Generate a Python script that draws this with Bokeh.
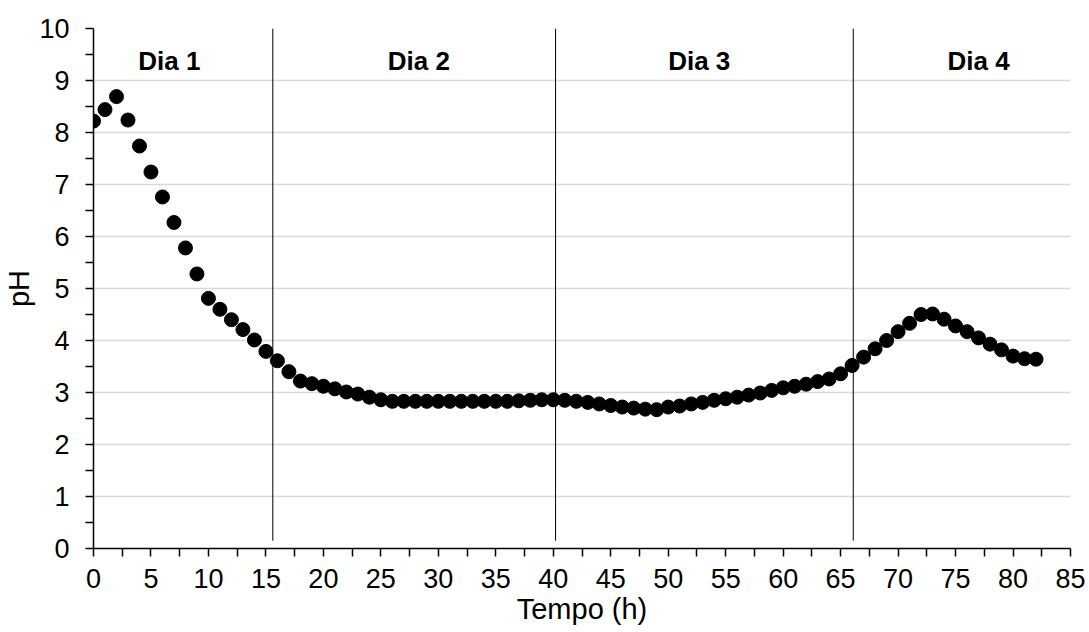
from bokeh.plotting import figure
from bokeh.models import ColumnDataSource, Range1d, FixedTicker
from bokeh.embed import file_html
from bokeh.resources import INLINE
from bokeh.core.properties import value

# Data
hours = list(range(0, 83))
ph = [8.22, 8.44, 8.69, 8.24, 7.74, 7.24, 6.76, 6.27, 5.78, 5.28,
      4.81, 4.60, 4.40, 4.21, 4.01, 3.79, 3.61, 3.40, 3.22, 3.17,
      3.12, 3.07, 3.01, 2.97, 2.91, 2.86, 2.83, 2.83, 2.83, 2.83,
      2.83, 2.83, 2.83, 2.83, 2.83, 2.83, 2.83, 2.84, 2.85, 2.86,
      2.86, 2.85, 2.83, 2.81, 2.78, 2.75, 2.72, 2.70, 2.68, 2.67,
      2.72, 2.74, 2.78, 2.81, 2.85, 2.88, 2.91, 2.95, 2.99, 3.04,
      3.09, 3.12, 3.16, 3.21, 3.26, 3.36, 3.52, 3.68, 3.84, 4.00,
      4.17, 4.33, 4.50, 4.51, 4.41, 4.28, 4.17, 4.05, 3.93, 3.82,
      3.70, 3.65, 3.64]

day_bounds = [15.6, 40.2, 66.1]
day_labels = ["Dia 1", "Dia 2", "Dia 3", "Dia 4"]
day_label_x = [6.6, 28.3, 52.7, 77.0]
day_label_y = 9.38

x_ticks = list(range(0, 86, 5))
y_ticks = list(range(0, 11))

FONT = "Liberation Sans"

p = figure(width=1086, height=630, output_backend="svg", toolbar_location=None,
           x_range=Range1d(0, 85), y_range=Range1d(0, 10),
           min_border_left=92, min_border_right=16, min_border_top=28, min_border_bottom=82)
p.outline_line_color = None
p.background_fill_color = "white"

# grid
p.xgrid.grid_line_color = None
p.ygrid.grid_line_color = "#d9d9d9"
p.ygrid.grid_line_width = 1.5
p.ygrid.ticker = FixedTicker(ticks=y_ticks)

# axes
p.xaxis.ticker = FixedTicker(ticks=x_ticks, minor_ticks=[x + 2.5 for x in x_ticks[:-1]])
p.yaxis.ticker = FixedTicker(ticks=y_ticks, minor_ticks=[y + 0.5 for y in y_ticks[:-1]])
for ax in (p.xaxis[0], p.yaxis[0]):
    ax.axis_line_color = "black"
    ax.axis_line_width = 1.5
    ax.major_tick_line_color = "black"
    ax.minor_tick_line_color = "black"
    ax.major_tick_line_width = 1.5
    ax.minor_tick_line_width = 1.5
    ax.major_tick_in = 0
    ax.minor_tick_in = 0
    ax.major_tick_out = 8
    ax.minor_tick_out = 8
    ax.major_label_text_font = FONT
    ax.major_label_text_font_size = "27px"
    ax.major_label_text_color = "black"
    ax.axis_label_text_font = FONT
    ax.axis_label_text_font_size = "29px"
    ax.axis_label_text_font_style = "normal"
    ax.axis_label_text_color = "black"
p.xaxis.axis_label = "Tempo (h)"
p.yaxis.axis_label = "pH"
p.xaxis.major_label_standoff = 12
p.xaxis.axis_label_standoff = 2
p.yaxis.major_label_standoff = 16
p.yaxis.axis_label_standoff = 1

# day separators
p.segment(x0=day_bounds, y0=[0.15] * 3, x1=day_bounds, y1=[10] * 3,
          line_color="black", line_width=1)

# points
src = ColumnDataSource(dict(x=hours, y=ph))
p.scatter("x", "y", source=src, size=14, fill_color="black", line_color="black")

# day labels
p.text(x=day_label_x, y=[day_label_y] * 4, text=day_labels,
       text_font=value(FONT), text_font_size="26px", text_font_style="bold",
       text_align="center", text_baseline="middle", text_color="black")

open("out.html", "w").write(file_html(p, INLINE))
